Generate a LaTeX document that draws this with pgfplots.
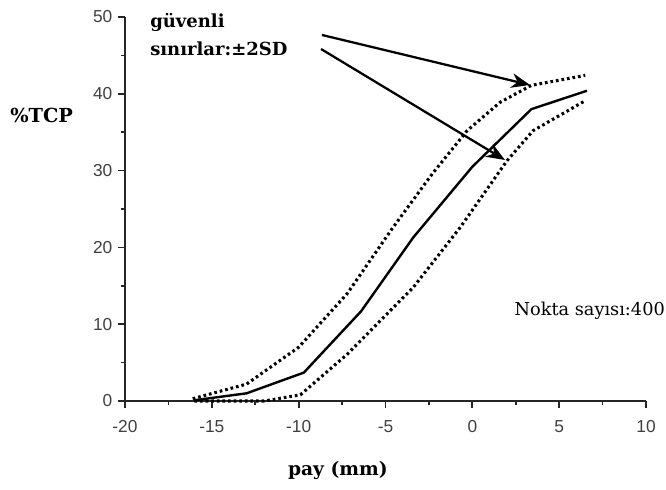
\documentclass[border=0pt]{standalone}
\usepackage{pgfplots}
\pgfplotsset{compat=1.18}
\usepackage{fontspec}
\setmainfont{DejaVu Serif}
\newfontfamily\ticksf{Liberation Sans}
\usetikzlibrary{arrows.meta}
\begin{document}
\begin{tikzpicture}
\useasboundingbox (-93.75pt,-66pt) rectangle (405.75pt,300.75pt);
\begin{axis}[
  at={(0,0)}, anchor=south west,
  scale only axis, width=390.75pt, height=288pt,
  xmin=-20, xmax=10, ymin=0, ymax=50,
  axis lines*=left,
  axis line style={line width=1.5pt, black!85},
  clip=false,
  xtick={-20,-15,-10,-5,0,5,10},
  xticklabels={-20,-15,-10,-5,0,5,10},
  ytick={0,10,20,30,40,50},
  yticklabels={0,10,20,30,40,50},
  minor x tick num=1, minor y tick num=1,
  tick align=outside,
  major tick length=5pt, minor tick length=3pt,
  every tick/.style={line width=1.3pt, black!85},
  tick label style={font=\ticksf\fontsize{13}{15}\selectfont, text=black!75},
  xticklabel style={yshift=-6pt},
  yticklabel style={xshift=-1pt},
]
% solid mean curve
\addplot[line width=1.8pt, black] coordinates {
  (-16,0.1) (-13,1.0) (-9.7,3.7) (-6.4,11.7) (-3.4,21.3) (0,30.5) (3.4,38.0) (6.6,40.4)
};
% upper +2SD
\addplot[line width=2.3pt, black, dash pattern=on 2pt off 2.2pt] coordinates {
  (-16.1,0.3) (-13,2.2) (-10,7.0) (-7.2,14.0) (-4.6,22.5) (-2.3,29.6) (-0.3,35.2) (1.6,38.9) (3.4,41.1) (6.5,42.4)
};
% lower -2SD
\addplot[line width=2.3pt, black, dash pattern=on 2pt off 2.2pt] coordinates {
  (-16,0) (-12,0) (-9.9,0.8) (-7.2,6.1) (-3.4,14.8) (-0.7,22.6) (2.0,31.3) (3.5,35.2) (6.5,39.1)
};
% annotation arrows
\draw[line width=1.7pt, -{Stealth[length=14pt, width=11pt]}] (axis cs:-8.66,47.66) -- (axis cs:3.32,41.15);
\draw[line width=1.7pt, -{Stealth[length=14pt, width=11pt]}] (axis cs:-8.71,45.83) -- (axis cs:1.88,31.38);
% texts
\node[anchor=base west, inner sep=0pt, font=\bfseries\fontsize{13.5}{16}\selectfont] at (axis cs:-18.56,48.57) {güvenli};
\node[anchor=base west, inner sep=0pt, font=\bfseries\fontsize{13.5}{16}\selectfont] at (axis cs:-18.56,45.05) {sınırlar:±2SD};
\node[anchor=base west, inner sep=0pt, font=\bfseries\fontsize{14.5}{17}\selectfont] at (axis cs:-26.62,36.2) {\%TCP};
\node[anchor=base, inner sep=0pt, font=\bfseries\fontsize{14}{17}\selectfont] at (axis cs:-7.74,-9.64) {pay (mm)};
\node[anchor=base east, inner sep=0pt, font=\fontsize{13.3}{15}\selectfont] at (axis cs:11.1,11.07) {Nokta sayısı:400};
\end{axis}
\end{tikzpicture}
\end{document}
